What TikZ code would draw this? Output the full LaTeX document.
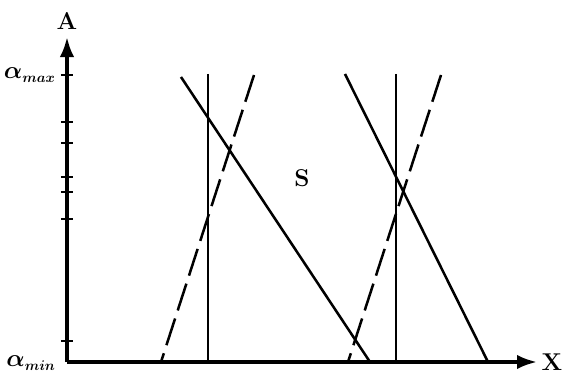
\documentclass[tikz,border=0pt]{standalone}
\usepackage{amsmath,amssymb,bm}
\usetikzlibrary{arrows.meta,positioning}
\tikzset{
  axis/.style={line width=2.4pt,-{Latex[length=5mm,width=3.6mm]}},
  tick/.style={line width=1.8pt},
  member/.style={line width=1.8pt},
  memberdash/.style={member,dash pattern=on 20pt off 6pt},
  axlabel/.style={font=\LARGE\bfseries,inner sep=0pt},
  alab/.style={font=\LARGE,inner sep=0pt,anchor=east}
}
\begin{document}
\begin{tikzpicture}[x=0.025cm,y=0.025cm]
  \useasboundingbox (-67,-13) rectangle (498,362);
  \coordinate (O) at (0,0);
  \coordinate (Atop) at (0,325);
  \coordinate (Xend) at (470,0);
  \draw[axis] (O)--(Atop);
  \draw[axis] (O)--(Xend);
  \node[axlabel] (A) at (0,341) {A};
  \node[axlabel] (X) at (485,0) {X};
  % ticks on the A axis
  \foreach \h/\n in {287/amax,240/t1,219/t2,185/t3,170/t4,143/t5,21/t6}
    \draw[tick] (-6,\h) coordinate (\n) -- (6,\h);
  \node[alab] (amaxlab) at (-11,287) {$\bm{\alpha}_{\scriptscriptstyle\bm{max}}$};
  \node[alab] (aminlab) at (-11,-1) {$\bm{\alpha}_{\scriptscriptstyle\bm{min}}$};
  % left group
  \coordinate (v1t) at (141,288); \coordinate (v1b) at (141,0);
  \coordinate (d1t) at (114,285); \coordinate (d1b) at (303,0);
  \coordinate (e1t) at (187,287); \coordinate (e1b) at (94,0);
  \draw[member] (v1t)--(v1b);
  \draw[member] (d1t)--(d1b);
  \draw[memberdash] (e1t)--(e1b);
  % right group
  \coordinate (v2t) at (329,288); \coordinate (v2b) at (329,0);
  \coordinate (d2t) at (278,288); \coordinate (d2b) at (421,0);
  \coordinate (e2t) at (374,287); \coordinate (e2b) at (281,0);
  \draw[member] (v2t)--(v2b);
  \draw[member] (d2t)--(d2b);
  \draw[memberdash] (e2t)--(e2b);
  \node[axlabel] (S) at (235,184) {S};
\end{tikzpicture}
\end{document}
